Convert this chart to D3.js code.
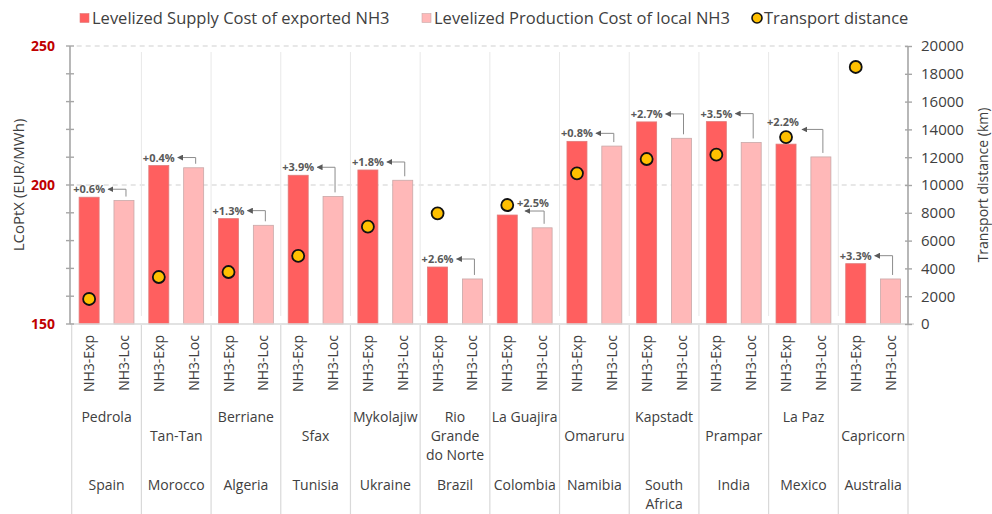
<!DOCTYPE html>
<html>
<head>
<meta charset="utf-8">
<script src="https://cdn.jsdelivr.net/npm/d3@7"></script>
<style>
  html, body { margin: 0; padding: 0; background: #fff; }
  svg { display: block; font-family: "Open Sans", "Noto Sans", sans-serif; }
</style>
</head>
<body>
<div id="chart"></div>
<script>
// Levelized cost of exported vs. locally produced NH3 per site, with transport distance
const countries = ["Spain", "Morocco", "Algeria", "Tunisia", "Ukraine", "Brazil",
  "Colombia", "Namibia", "South\nAfrica", "India", "Mexico", "Australia"];
const cities = ["Pedrola", "\nTan-Tan", "Berriane", "\nSfax", "Mykolajiw", "Rio\nGrande\ndo Norte",
  "La Guajira", "\nOmaruru", "Kapstadt", "\nPrampar", "La Paz", "\nCapricorn"];
const seriesKeys = ["NH3-Exp", "NH3-Loc"];
const exportCost = [195.6, 207.0, 187.9, 203.5, 205.4, 170.5, 189.2, 215.7, 222.7, 222.8, 214.7, 171.7];
const localCost  = [194.4, 206.2, 185.5, 195.9, 201.7, 166.2, 184.6, 214.0, 216.8, 215.3, 210.1, 166.2];
const distanceKm = [1800, 3380, 3740, 4900, 7000, 7960, 8560, 10840, 11870, 12180, 13450, 18490];
const costTicks = [150, 200, 250];
const distanceTicks = [0, 2000, 4000, 6000, 8000, 10000, 12000, 14000, 16000, 18000, 20000];
const legendLabels = ["Levelized Supply Cost of exported NH3", "Levelized Production Cost of local NH3", "Transport distance"];

const W = 992, H = 514;
const plot = { left: 71.7, right: 908, top: 46, bottom: 324 };

const colors = { exp: "#ff5f5f", loc: "#ffb8b8", dot: "#ffc000", text: "#404040",
  axis: "#a6a6a6", sep: "#d9d9d9", red: "#c00000", note: "#595959" };

const svg = d3.select("#chart").append("svg").attr("width", W).attr("height", H);

const x0 = d3.scaleBand().domain(d3.range(countries.length)).range([plot.left, plot.right]);
const x1 = d3.scaleBand().domain(seriesKeys).range([0, x0.bandwidth()])
  .paddingInner(0.426).paddingOuter(0.213);
const y = d3.scaleLinear().domain([150, 250]).range([plot.bottom, plot.top]);
const y2 = d3.scaleLinear().domain([0, 20000]).range([plot.bottom, plot.top]);

const expCx = i => x0(i) + x1("NH3-Exp") + x1.bandwidth() / 2;
const locCx = i => x0(i) + x1("NH3-Loc") + x1.bandwidth() / 2;

// Dashed gridlines at major cost ticks
svg.append("g").selectAll("line").data([200, 250]).join("line")
  .attr("x1", plot.left + 5).attr("x2", plot.right)
  .attr("y1", d => y(d)).attr("y2", d => y(d))
  .attr("stroke", "#d0d0d0").attr("stroke-width", 1.2).attr("stroke-dasharray", "5,4");

// Group separators inside the plot and through the category labels
const sepX = d3.range(countries.length + 1).map(i => i < countries.length ? x0(i) : plot.right);
svg.append("g").selectAll("line").data(sepX.slice(1, -1)).join("line")
  .attr("x1", d => d).attr("x2", d => d).attr("y1", plot.top + 6).attr("y2", plot.bottom - 8)
  .attr("stroke", "#e8e8e8").attr("stroke-width", 1);
svg.append("g").selectAll("line").data(sepX).join("line")
  .attr("x1", d => d).attr("x2", d => d).attr("y1", plot.bottom + 1).attr("y2", H)
  .attr("stroke", colors.sep).attr("stroke-width", 1.2);

// Bars
const groups = svg.append("g").selectAll("g").data(d3.range(countries.length)).join("g")
  .attr("transform", i => `translate(${x0(i)},0)`);
groups.append("rect")
  .attr("x", x1("NH3-Exp")).attr("width", x1.bandwidth())
  .attr("y", i => y(exportCost[i])).attr("height", i => y(150) - y(exportCost[i]))
  .attr("fill", colors.exp).attr("stroke", "#e07a7a").attr("stroke-width", 0.8);
groups.append("rect")
  .attr("x", x1("NH3-Loc")).attr("width", x1.bandwidth())
  .attr("y", i => y(localCost[i])).attr("height", i => y(150) - y(localCost[i]))
  .attr("fill", colors.loc).attr("stroke", "#c8a8a8").attr("stroke-width", 0.8);

// Bottom axis line
svg.append("line").attr("x1", plot.left - 2).attr("x2", plot.right + 6)
  .attr("y1", plot.bottom).attr("y2", plot.bottom)
  .attr("stroke", colors.sep).attr("stroke-width", 1.5);

// Left axis (cost)
const leftAxis = svg.append("g");
leftAxis.append("line").attr("x1", 70).attr("x2", 70).attr("y1", plot.top).attr("y2", plot.bottom)
  .attr("stroke", colors.axis).attr("stroke-width", 1.6);
leftAxis.selectAll("line.minor").data(d3.range(150, 251, 10)).join("line").attr("class", "minor")
  .attr("x1", 66).attr("x2", 74).attr("y1", d => y(d)).attr("y2", d => y(d))
  .attr("stroke", colors.axis).attr("stroke-width", 1.4);
leftAxis.selectAll("text").data(costTicks).join("text")
  .attr("x", 55).attr("y", d => y(d)).attr("dy", "0.36em").attr("text-anchor", "end")
  .attr("font-size", 14).attr("font-weight", 700).attr("fill", colors.red)
  .text(d => d);
svg.append("text").attr("transform", `translate(19,${(plot.top + plot.bottom) / 2}) rotate(-90)`)
  .attr("text-anchor", "middle").attr("dy", "0.36em").attr("font-size", 15).attr("fill", colors.text)
  .text("LCoPtX (EUR/MWh)");

// Right axis (distance)
const rightAxis = d3.axisRight(y2).tickValues(distanceTicks).tickFormat(d3.format("d"))
  .tickSize(4).tickPadding(9);
const ra = svg.append("g").attr("transform", `translate(${plot.right},0)`).call(rightAxis);
ra.select(".domain").attr("stroke", colors.axis).attr("stroke-width", 1.6).attr("d", `M0,${plot.top}V${plot.bottom}`);
ra.selectAll(".tick line").attr("stroke", colors.axis).attr("stroke-width", 1.4).attr("x1", -3).attr("x2", 4);
ra.selectAll(".tick text").attr("font-size", 15).attr("fill", colors.text)
  .attr("font-family", "'Open Sans', 'Noto Sans', sans-serif");
svg.append("text").attr("transform", `translate(983,${(plot.top + plot.bottom) / 2}) rotate(-90)`)
  .attr("text-anchor", "middle").attr("dy", "0.36em").attr("font-size", 14).attr("fill", colors.text)
  .text("Transport distance (km)");

// Percentage difference annotations with elbow arrows
const fmtPct = d3.format("+.1%");
const nudge = {
  6: { dx: 25.7, dy: -4.4, arrowDy: 8.4, tipDx: 17.7 },
  10: { dx: -3, dy: -13.7, arrowDy: 7 }
};
svg.append("defs").append("marker").attr("id", "head")
  .attr("viewBox", "0 0 10 10").attr("refX", 9).attr("refY", 5)
  .attr("markerWidth", 6).attr("markerHeight", 6).attr("orient", "auto")
  .append("path").attr("d", "M0,0 L10,5 L0,10 z").attr("fill", colors.note);

const notes = svg.append("g");
d3.range(countries.length).forEach(i => {
  const n = nudge[i] || {};
  const tx = expCx(i) + (n.dx || 0);
  const ty = y(exportCost[i]) - 8 + (n.dy || 0);
  const label = fmtPct((exportCost[i] - localCost[i]) / localCost[i]);
  const t = notes.append("text").attr("x", tx).attr("y", ty).attr("dy", "0.36em")
    .attr("text-anchor", "middle").attr("font-size", 11).attr("font-weight", 700)
    .attr("fill", colors.note).text(label);
  const bw = t.node().getComputedTextLength();
  const ay = ty + (n.arrowDy || 0);
  const tip = n.tipDx !== undefined ? expCx(i) + n.tipDx : tx + bw / 2 + 3;
  const vx = locCx(i) + 2;
  notes.append("path")
    .attr("d", `M${vx},${y(localCost[i]) - 4}V${ay}H${tip}`)
    .attr("fill", "none").attr("stroke", "#8c8c8c").attr("stroke-width", 1)
    .attr("marker-end", "url(#head)");
});

// Transport distance markers
svg.append("g").selectAll("circle").data(d3.range(countries.length)).join("circle")
  .attr("cx", i => expCx(i)).attr("cy", i => y2(distanceKm[i])).attr("r", 6)
  .attr("fill", colors.dot).attr("stroke", "#111").attr("stroke-width", 1.8);

// Category labels: series, city, country
const cat = svg.append("g").attr("fill", colors.text);
d3.range(countries.length).forEach(i => {
  seriesKeys.forEach(k => {
    const cx = x0(i) + x1(k) + x1.bandwidth() / 2;
    cat.append("text").attr("transform", `translate(${cx + 5},335) rotate(-90)`)
      .attr("text-anchor", "end").attr("font-size", 14).text(k);
  });
  const gx = x0(i) + x0.bandwidth() / 2;
  cities[i].split("\n").forEach((line, j) => {
    if (!line) return;
    cat.append("text").attr("x", gx).attr("y", 417 + j * 19).attr("dy", "0.36em")
      .attr("text-anchor", "middle").attr("font-size", 14).text(line);
  });
  countries[i].split("\n").forEach((line, j) => {
    cat.append("text").attr("x", gx).attr("y", 485 + j * 19).attr("dy", "0.36em")
      .attr("text-anchor", "middle").attr("font-size", 14).text(line);
  });
});

// Legend
const legend = svg.append("g").attr("font-size", 16.5).attr("fill", colors.text);
const legendX = [80, 422, 752];
legendLabels.forEach((lab, k) => {
  const g = legend.append("g").attr("transform", `translate(${legendX[k]},18)`);
  if (k < 2) {
    g.append("rect").attr("x", 0).attr("y", -4.5).attr("width", 9).attr("height", 9)
      .attr("fill", k === 0 ? colors.exp : colors.loc).attr("stroke", k === 0 ? "#e07a7a" : "#c8a8a8").attr("stroke-width", 0.6);
  } else {
    g.append("circle").attr("cx", 5).attr("cy", 0).attr("r", 5)
      .attr("fill", colors.dot).attr("stroke", "#111").attr("stroke-width", 1.6);
  }
  g.append("text").attr("x", 12).attr("y", 0).attr("dy", "0.36em").text(lab);
});
</script>
</body>
</html>
